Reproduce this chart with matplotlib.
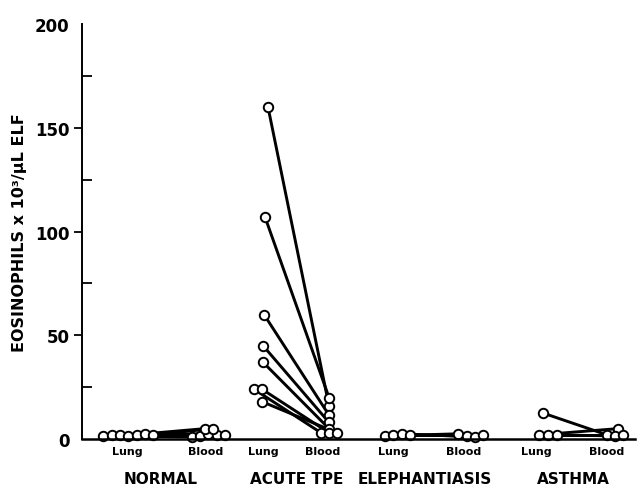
import matplotlib
matplotlib.use("Agg")
import matplotlib.pyplot as plt
import matplotlib.ticker as ticker

plt.rcParams['font.family'] = ['DejaVu Sans']
plt.rcParams['font.weight'] = 'bold'

# groups and the "Lung" / "Blood" columns (horizontal position on the chart)
groups = ["NORMAL", "ACUTE TPE", "ELEPHANTIASIS", "ASTHMA"]
group_pos = [161, 297, 425, 573]
lung_label_pos = [127, 263, 393, 536]
blood_label_pos = [206, 323, 464, 607]

# paired subjects: (position, value) for lung and blood of each subject
normal_lung_x = [103, 112, 120, 128, 137, 145, 153]
normal_lung = [1.5, 2, 2, 1.5, 2, 2.5, 2]
normal_blood_x = [192, 200, 208, 217, 225, 205, 213]
normal_blood = [1, 1.5, 2.5, 2, 2, 5, 5]

tpe_lung_x = [268, 265, 264, 263, 263, 254, 262, 262]
tpe_lung = [160, 107, 60, 45, 37, 24, 24, 18]
tpe_blood_x = [329, 329, 329, 329, 329, 321, 329, 337]
tpe_blood = [16, 20, 11.5, 8, 5, 3, 3, 3]

eleph_lung_x = [385, 393, 402, 410]
eleph_lung = [1.5, 2, 2.5, 2]
eleph_blood_x = [458, 467, 475, 483]
eleph_blood = [2.5, 1.5, 1, 2]

asthma_lung_x = [543, 539, 548, 557]
asthma_lung = [12.5, 2, 2, 2]
asthma_blood_x = [607, 618, 615, 623]
asthma_blood = [2, 5, 1.5, 2]

series = [
    (normal_lung_x, normal_lung, normal_blood_x, normal_blood),
    (tpe_lung_x, tpe_lung, tpe_blood_x, tpe_blood),
    (eleph_lung_x, eleph_lung, eleph_blood_x, eleph_blood),
    (asthma_lung_x, asthma_lung, asthma_blood_x, asthma_blood),
]

W, H = 637, 489
fig = plt.figure(figsize=(W / 100, H / 100), dpi=100)
ax = fig.add_axes([82 / W, (H - 440) / H, (635 - 82) / W, (440 - 25) / H])

for lx, ly, bx, by in series:
    # connecting lines first, circles on top
    for i in range(len(lx)):
        ax.plot([lx[i], bx[i]], [ly[i], by[i]], color='black', lw=2.1,
                solid_capstyle='butt', zorder=2)
    ax.plot(lx, ly, 'o', ms=6.8, mfc='white', mec='black', mew=1.4,
            zorder=3, clip_on=False)
    ax.plot(bx, by, 'o', ms=6.8, mfc='white', mec='black', mew=1.4,
            zorder=3, clip_on=False)

ax.set_xlim(82, 635)
ax.set_ylim(0, 200)

for s in ['top', 'right']:
    ax.spines[s].set_visible(False)
ax.spines['left'].set_linewidth(1.4)
ax.spines['bottom'].set_linewidth(1.8)
ax.spines['bottom'].set_zorder(4)

# y ticks: labelled ticks point out, small ticks point in
ax.yaxis.set_major_locator(ticker.FixedLocator([0, 50, 100, 150, 200]))
ax.yaxis.set_minor_locator(ticker.FixedLocator([25, 75, 125, 175, 200]))
ax.tick_params(axis='y', which='major', direction='out', length=6, width=1.3,
               labelsize=12, pad=3)
ax.tick_params(axis='y', which='minor', direction='in', length=7, width=1.3)
ax.yaxis.get_major_ticks()[0].tick1line.set_visible(False)
ax.yaxis.get_major_ticks()[-1].tick1line.set_visible(False)
for lab in ax.get_yticklabels():
    lab.set_fontweight('bold')

# x: Lung / Blood labels without tick marks
ax.set_xticks(lung_label_pos + blood_label_pos)
ax.set_xticklabels(["Lung"] * 4 + ["Blood"] * 4, fontsize=8, fontweight='bold')
ax.tick_params(axis='x', length=0, pad=5)

for name, gx in zip(groups, group_pos):
    ax.text(gx, -19, name, ha='center', va='center', fontsize=11,
            fontweight='bold', transform=ax.transData, clip_on=False)

ax.set_ylabel("EOSINOPHILS x 10\u00b3/\u03bcL ELF", fontsize=11.5,
              fontweight='bold')
ax.yaxis.set_label_coords(-0.1, 0.5)

fig.savefig("out.png", dpi=100)
